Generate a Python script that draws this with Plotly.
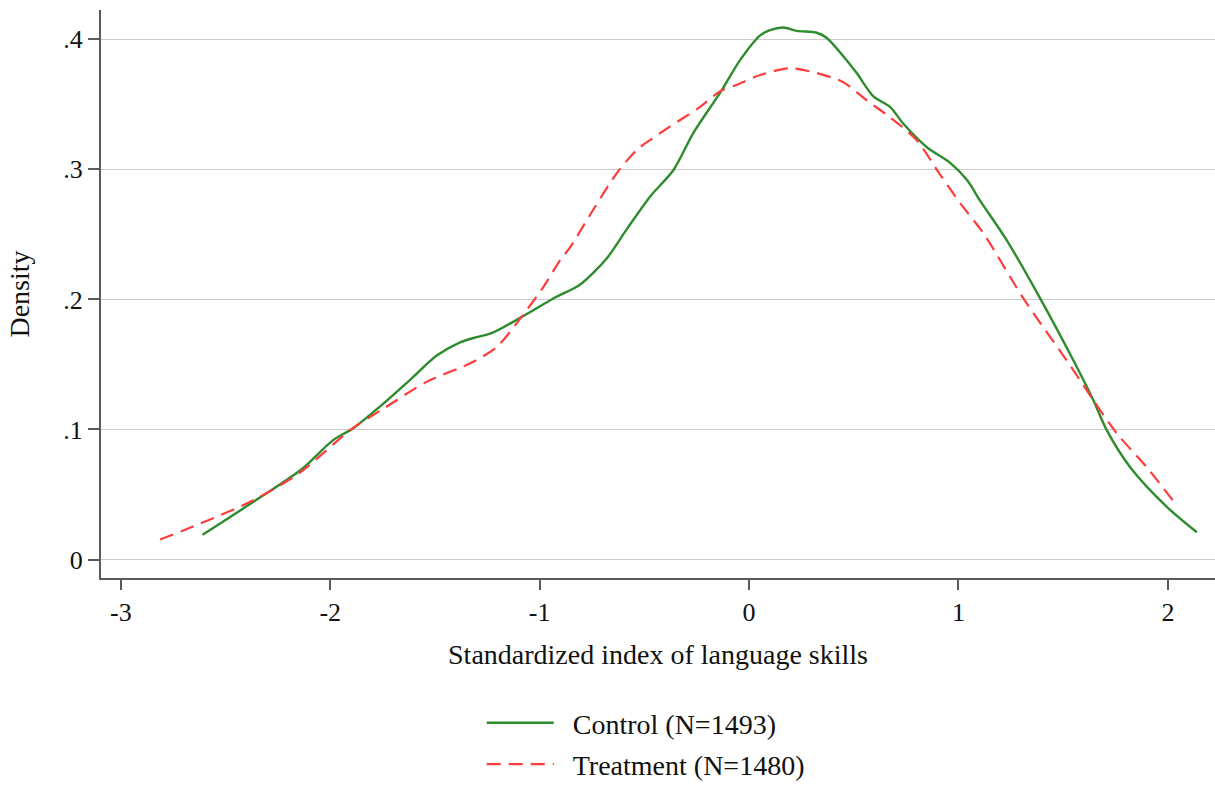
import plotly.graph_objects as go

# Kernel density estimates of the standardized language-skills index
control_x = [-2.61, -2.38, -2.14, -1.985, -1.89, -1.76, -1.62, -1.49, -1.38, -1.30, -1.23,
             -1.08, -0.92, -0.81, -0.68, -0.584, -0.473, -0.361, -0.266, -0.138, -0.043,
             0.053, 0.10, 0.164, 0.228, 0.323, 0.371, 0.45, 0.514, 0.594, 0.673, 0.737,
             0.849, 0.96, 1.04, 1.103, 1.23, 1.39, 1.549, 1.644, 1.708, 1.82, 1.995, 2.138]
control_y = [0.019, 0.043, 0.069, 0.092, 0.101, 0.118, 0.138, 0.157, 0.167, 0.171, 0.174,
             0.187, 0.202, 0.211, 0.2315, 0.254, 0.279, 0.2995, 0.328, 0.359, 0.384,
             0.403, 0.407, 0.409, 0.4065, 0.405, 0.401, 0.387, 0.374, 0.356, 0.348, 0.335,
             0.317, 0.305, 0.292, 0.276, 0.2456, 0.2008, 0.153, 0.1225, 0.0995, 0.071, 0.0405, 0.021]

treat_x = [-2.813, -2.62, -2.367, -2.144, -1.905, -1.746, -1.54, -1.317, -1.205, -1.094,
           -0.982, -0.903, -0.855, -0.744, -0.632, -0.536, -0.473, -0.377, -0.234, -0.138,
           -0.059, 0.053, 0.196, 0.323, 0.45, 0.562, 0.673, 0.8, 0.912, 1.008, 1.119,
           1.31, 1.517, 1.58, 1.644, 1.756, 1.899, 2.04]
treat_y = [0.0154, 0.0277, 0.0456, 0.067, 0.0995, 0.116, 0.1366, 0.152, 0.1635, 0.185,
           0.2097, 0.230, 0.240, 0.269, 0.297, 0.315, 0.3225, 0.333, 0.348, 0.360,
           0.365, 0.3725, 0.3777, 0.374, 0.367, 0.353, 0.340, 0.3225, 0.296, 0.274, 0.2508,
           0.2008, 0.153, 0.138, 0.1225, 0.097, 0.071, 0.042]

x_ticks = [-3, -2, -1, 0, 1, 2]
x_tick_labels = ["-3", "-2", "-1", "0", "1", "2"]
y_ticks = [0, 0.1, 0.2, 0.3, 0.4]
y_tick_labels = ["0", ".1", ".2", ".3", ".4"]

FONT = "Liberation Serif"
AXIS_COLOR = "#5a5a5a"
TEXT_COLOR = "#111111"

fig = go.Figure()
fig.add_trace(go.Scatter(
    x=control_x, y=control_y, mode="lines", name="\u00a0\u00a0Control (N=1493)",
    legendgroup="control",
    line=dict(color="#2e8b2e", width=2.4, shape="spline", smoothing=0.8),
))
fig.add_trace(go.Scatter(
    x=treat_x, y=treat_y, mode="lines", name="\u00a0\u00a0Treatment (N=1480)",
    legendgroup="treatment",
    line=dict(color="#ff3c3c", width=2.2, dash="14px,8px", shape="spline", smoothing=0.8),
))

fig.update_layout(
    width=1215, height=787,
    margin=dict(l=101, r=0, t=10, b=209, autoexpand=False),
    paper_bgcolor="white", plot_bgcolor="white",
    font=dict(family=FONT, size=26, color=TEXT_COLOR),
    showlegend=True,
    legend=dict(
        orientation="v", x=0.489, xanchor="center",
        y=0.1131, yref="container", yanchor="top",
        font=dict(family=FONT, size=28, color=TEXT_COLOR),
        itemwidth=67, tracegroupgap=2, bgcolor="rgba(0,0,0,0)",
    ),
    xaxis=dict(
        range=[-3.095, 2.225], tickmode="array", tickvals=x_ticks, ticktext=x_tick_labels,
        showgrid=False, zeroline=False,
        showline=True, linecolor=AXIS_COLOR, linewidth=2,
        ticks="outside", ticklen=10, tickwidth=2, tickcolor=AXIS_COLOR,
        title=dict(text="Standardized index of language skills", standoff=18,
                   font=dict(family=FONT, size=28)),
    ),
    yaxis=dict(
        range=[-0.0142, 0.4225], tickmode="array", tickvals=y_ticks, ticktext=y_tick_labels,
        showgrid=True, gridcolor="#cccccc", gridwidth=1.3, zeroline=False,
        showline=True, linecolor=AXIS_COLOR, linewidth=2,
        ticks="outside", ticklen=11, tickwidth=2, tickcolor=AXIS_COLOR,
        title=dict(text="Density", standoff=25, font=dict(family=FONT, size=28)),
    ),
)

fig.write_html("out.html")
